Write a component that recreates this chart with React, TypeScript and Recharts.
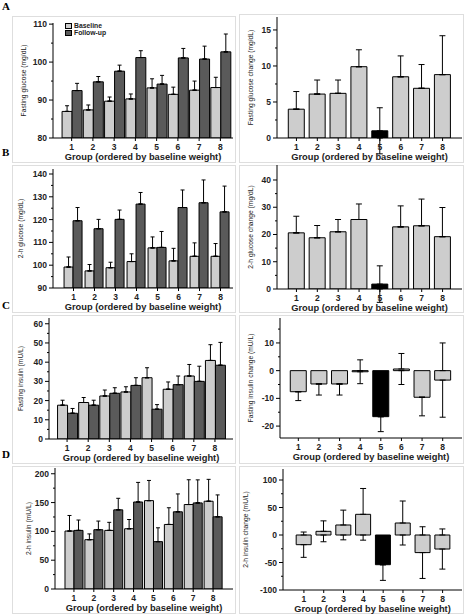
import React from 'react';
import { BarChart, Bar, XAxis, YAxis, ErrorBar, Cell, Legend } from 'recharts';

// groups ordered by baseline weight
const groups = ['1', '2', '3', '4', '5', '6', '7', '8'];
const highlightGroup = '5';

// A - fasting glucose (mg/dL)
const fastingGlucoseBaseline = [87.0, 87.4, 89.7, 90.3, 93.2, 91.5, 92.6, 93.3];
const fastingGlucoseBaselineSE = [1.5, 1.3, 1.1, 1.3, 2.4, 1.9, 2.4, 2.7];
const fastingGlucoseFollowUp = [92.5, 94.8, 97.6, 101.2, 94.2, 101.1, 100.8, 102.7];
const fastingGlucoseFollowUpSE = [1.9, 1.4, 1.6, 1.8, 2.3, 2.5, 3.4, 4.7];
const fastingGlucoseChange = [4.0, 6.1, 6.2, 9.9, 1.0, 8.5, 6.9, 8.8];
const fastingGlucoseChangeSE = [2.45, 1.95, 1.85, 2.35, 3.2, 2.9, 3.3, 5.4];

// B - 2-h glucose (mg/dL)
const twoHourGlucoseBaseline = [99.2, 97.5, 98.9, 101.6, 107.6, 101.9, 103.9, 103.9];
const twoHourGlucoseBaselineSE = [4.4, 2.8, 2.4, 3.4, 4.8, 5.5, 5.9, 5.6];
const twoHourGlucoseFollowUp = [119.5, 116.0, 120.1, 126.8, 107.8, 125.3, 127.4, 123.4];
const twoHourGlucoseFollowUpSE = [5.8, 4.1, 4.1, 5.1, 7.0, 7.7, 10.0, 11.3];
const twoHourGlucoseChange = [20.6, 18.8, 21.0, 25.5, 1.8, 22.8, 23.2, 19.2];
const twoHourGlucoseChangeSE = [6.1, 4.5, 4.5, 5.7, 6.7, 7.7, 9.8, 10.7];

// C - fasting insulin (mU/L)
const fastingInsulinBaseline = [17.6, 19.0, 22.4, 24.5, 31.9, 25.9, 32.8, 40.9];
const fastingInsulinBaselineSE = [2.6, 2.6, 3.1, 2.7, 5.2, 3.8, 6.0, 8.2];
const fastingInsulinFollowUp = [13.4, 17.6, 23.8, 27.9, 15.5, 28.3, 30.0, 38.4];
const fastingInsulinFollowUpSE = [2.5, 2.6, 2.9, 4.0, 2.4, 4.5, 7.9, 11.9];
const fastingInsulinChange = [-7.6, -4.8, -4.8, -0.4, -16.6, 0.6, -9.6, -3.4];
const fastingInsulinChangeSE = [3.2, 4.0, 4.0, 4.3, 5.4, 5.6, 6.7, 13.4];

// D - 2-h insulin (mU/L)
const twoHourInsulinBaseline = [100.6, 85.6, 101.7, 104.6, 153.4, 112.0, 146.6, 152.3];
const twoHourInsulinBaselineSE = [27, 10, 14, 16, 35, 29, 43, 38];
const twoHourInsulinFollowUp = [101.7, 102.9, 137.4, 151.0, 82.2, 134.0, 149.4, 125.3];
const twoHourInsulinFollowUpSE = [18, 15, 20, 34, 24, 31, 40, 38];
const twoHourInsulinChange = [-17.6, 6.7, 18.2, 37.6, -54.0, 21.8, -32.0, -25.5];
const twoHourInsulinChangeSE = [23, 19, 27, 47, 28.5, 40, 47, 36.5];

const xTitle = 'Group (ordered by baseline weight)';

const LIGHT = '#cdcdcd';
const DARK = '#5a5a5a';
const FONT = '"Liberation Sans", Arial, sans-serif';
const Y_W = 40;
const X_H = 24;

type SeriesDef = { name: string; values: number[]; errors: number[]; fill: string };
type PanelCfg = {
  area: [number, number, number, number];
  box: [number, number, number, number];
  pad: [number, number];
  gap: string;
  domain: [number, number];
  major: number[];
  minor: number[];
  yLabel: string;
  yLabelX: number;
  series: SeriesDef[];
  cap: number;
  highlight?: boolean;
  legend?: boolean;
};

const pair = (b: number[], be: number[], f: number[], fe: number[]): SeriesDef[] => [
  { name: 'Baseline', values: b, errors: be, fill: LIGHT },
  { name: 'Follow-up', values: f, errors: fe, fill: DARK },
];
const single = (v: number[], e: number[]): SeriesDef[] => [{ name: 'Change', values: v, errors: e, fill: LIGHT }];

const panels: PanelCfg[] = [
  {
    area: [0, 0, 236, 165], box: [53, 23, 233, 138], pad: [8, 2], gap: '5%',
    domain: [80, 110.3], major: [80, 90, 100, 110], minor: [85, 95, 105],
    yLabel: 'Fasting glucose (mg/dL)', yLabelX: 23, cap: 2, legend: true,
    series: pair(fastingGlucoseBaseline, fastingGlucoseBaselineSE, fastingGlucoseFollowUp, fastingGlucoseFollowUpSE),
  },
  {
    area: [236, 0, 229, 165], box: [277, 17, 462, 138], pad: [9, 9], gap: '11%',
    domain: [0, 16.8], major: [0, 5, 10, 15], minor: [2.5, 7.5, 12.5],
    yLabel: 'Fasting glucose change (mg/dL)', yLabelX: 250, cap: 3, highlight: true,
    series: single(fastingGlucoseChange, fastingGlucoseChangeSE),
  },
  {
    area: [0, 150, 236, 165], box: [53, 169, 233, 288], pad: [10, 2], gap: '5%',
    domain: [90, 142.2], major: [90, 100, 110, 120, 130, 140], minor: [95, 105, 115, 125, 135],
    yLabel: '2-h glucose (mg/dL)', yLabelX: 20, cap: 2,
    series: pair(twoHourGlucoseBaseline, twoHourGlucoseBaselineSE, twoHourGlucoseFollowUp, twoHourGlucoseFollowUpSE),
  },
  {
    area: [236, 150, 229, 165], box: [277, 165, 462, 289], pad: [9, 9], gap: '11%',
    domain: [0, 45.5], major: [0, 10, 20, 30, 40], minor: [5, 15, 25, 35],
    yLabel: '2-h glucose change (mg/dL)', yLabelX: 250, cap: 3, highlight: true,
    series: single(twoHourGlucoseChange, twoHourGlucoseChangeSE),
  },
  {
    area: [0, 300, 236, 165], box: [49, 318, 233, 439], pad: [7.5, 7.5], gap: '5%',
    domain: [0, 63], major: [0, 10, 20, 30, 40, 50, 60], minor: [5, 15, 25, 35, 45, 55],
    yLabel: 'Fasting insulin (mU/L)', yLabelX: 20, cap: 2,
    series: pair(fastingInsulinBaseline, fastingInsulinBaselineSE, fastingInsulinFollowUp, fastingInsulinFollowUpSE),
  },
  {
    area: [236, 300, 229, 165], box: [280, 318, 462, 438], pad: [8, 9], gap: '11%',
    domain: [-24.3, 19], major: [-20, -10, 0, 10], minor: [-15, -5, 5, 15],
    yLabel: 'Fasting insulin change (mU/L)', yLabelX: 250, cap: 3, highlight: true,
    series: single(fastingInsulinChange, fastingInsulinChangeSE),
  },
  {
    area: [0, 450, 236, 166], box: [55, 468, 233, 589], pad: [9, 10], gap: '5%',
    domain: [0, 210], major: [0, 50, 100, 150, 200], minor: [25, 75, 125, 175],
    yLabel: '2-h insulin (mU/L)', yLabelX: 28, cap: 2,
    series: pair(twoHourInsulinBaseline, twoHourInsulinBaselineSE, twoHourInsulinFollowUp, twoHourInsulinFollowUpSE),
  },
  {
    area: [236, 450, 229, 166], box: [283, 469, 462, 590], pad: [11, 9.5], gap: '11%',
    domain: [-100, 120], major: [-100, -50, 0, 50, 100], minor: [-75, -25, 25, 75],
    yLabel: '2-h insulin change (mU/L)', yLabelX: 245, cap: 3, highlight: true,
    series: single(twoHourInsulinChange, twoHourInsulinChangeSE),
  },
];

// light outer frames and panel letters
const frames: [number, number, number, number][] = [
  [12, 16, 224, 147], [239, 14, 225, 149],
  [12, 165, 224, 148], [239, 165, 225, 148],
  [12, 315, 224, 149], [239, 315, 225, 149],
  [12, 466, 224, 148], [239, 466, 225, 148],
];
const letters = [
  { t: 'A', top: 1 },
  { t: 'B', top: 147 },
  { t: 'C', top: 300 },
  { t: 'D', top: 449 },
];

// error whiskers are only visible outside the bar: the part past the bar end,
// and, when the whisker crosses the zero line, the part beyond the bar's base
function whiskerOut(v: number, se: number) {
  return v >= 0 ? [0, se] : [se, 0];
}
function whiskerCross(v: number, se: number) {
  if (v > 0 && v - se < 0) return [se, -v];
  if (v < 0 && v + se > 0) return [v, se];
  return [0, 0];
}

function makeRows(series: SeriesDef[], base: number) {
  return groups.map((g, i) => {
    const row: any = { group: g };
    series.forEach((s, k) => {
      const v = s.values[i];
      const se = s.errors[i];
      row['v' + k] = v;
      row['o' + k] = whiskerOut(v - base, se);
      row['c' + k] = base === 0 ? whiskerCross(v, se) : [0, 0];
    });
    return row;
  });
}

const YTick = ({ x, y, payload, major }: any) => {
  const isMajor = major.includes(payload.value);
  return (
    <g>
      <line x1={x - (isMajor ? 4 : 2)} x2={x} y1={y} y2={y} stroke="#000" strokeWidth={1} />
      {isMajor && (
        <text x={x - 6} y={y} dy={3} textAnchor="end" fontFamily={FONT} fontSize={8.5} fontWeight="bold" fill="#222">
          {payload.value}
        </text>
      )}
    </g>
  );
};

const XTick = ({ x, y, payload }: any) => (
  <text x={x} y={y} dy={6.5} textAnchor="middle" fontFamily={FONT} fontSize={8.5} fontWeight="bold" fill="#222">
    {payload.value}
  </text>
);

const XTitle = ({ viewBox }: any) => (
  <text
    x={viewBox.x + viewBox.width / 2}
    y={viewBox.y + viewBox.height - 2}
    textAnchor="middle"
    fontFamily={FONT}
    fontSize={9.3}
    fontWeight="bold"
    fill="#222"
  >
    {xTitle}
  </text>
);

const YTitle = ({ viewBox, posX, text }: any) => {
  const y = viewBox.y + viewBox.height / 2;
  return (
    <text
      x={posX}
      y={y}
      transform={`rotate(-90, ${posX}, ${y})`}
      textAnchor="middle"
      dominantBaseline="central"
      fontFamily={FONT}
      fontSize={6.7}
      fill="#222"
    >
      {text}
    </text>
  );
};

const GroupLegend = ({ payload }: any) => (
  <div style={{ fontFamily: FONT, fontSize: 6.8, fontWeight: 'bold', lineHeight: '7px', color: '#222' }}>
    {(payload || []).filter((p: any) => p.type !== 'none').map((p: any) => (
      <div key={p.value} style={{ display: 'flex', alignItems: 'center' }}>
        <span style={{ display: 'inline-block', width: 5, height: 4, background: p.color, border: '1px solid #000', marginRight: 2 }} />
        {p.value}
      </div>
    ))}
  </div>
);

function Panel({ cfg }: { cfg: PanelCfg }) {
  const [cx, cy, cw, ch] = cfg.area;
  const [x0, y0, x1, y1] = cfg.box;
  const base = cfg.domain[0] > 0 ? cfg.domain[0] : 0;
  const rows = makeRows(cfg.series, base);
  const ticks = [...cfg.major, ...cfg.minor].sort((a, b) => a - b);
  const margin = { top: y0 - cy, left: x0 - cx - Y_W, right: cx + cw - x1, bottom: cy + ch - y1 - X_H };
  const padding = { left: cfg.pad[0], right: cfg.pad[1] };
  return (
    <div style={{ position: 'absolute', left: cx, top: cy }}>
      <BarChart width={cw} height={ch} data={rows} margin={margin} barGap={0} barCategoryGap={cfg.gap}>
        <XAxis
          xAxisId="b"
          dataKey="group"
          height={X_H}
          padding={padding}
          interval={0}
          tickSize={3}
          tickMargin={2}
          axisLine={{ stroke: '#000' }}
          tickLine={{ stroke: '#000' }}
          tick={<XTick />}
          label={<XTitle />}
        />
        <XAxis
          xAxisId="t"
          dataKey="group"
          orientation="top"
          height={0}
          padding={padding}
          tick={false}
          tickLine={false}
          axisLine={{ stroke: '#000' }}
        />
        <YAxis
          yAxisId="l"
          type="number"
          domain={cfg.domain}
          allowDataOverflow
          ticks={ticks}
          interval={0}
          width={Y_W}
          tickSize={0}
          tickMargin={0}
          tickLine={false}
          axisLine={{ stroke: '#000' }}
          tick={<YTick major={cfg.major} />}
          label={<YTitle posX={cfg.yLabelX - cx} text={cfg.yLabel} />}
        />
        <YAxis
          yAxisId="r"
          type="number"
          orientation="right"
          domain={cfg.domain}
          allowDataOverflow
          width={0}
          tick={false}
          tickLine={false}
          axisLine={{ stroke: '#000' }}
        />
        {cfg.series.map((s, k) => (
          <Bar
            key={'bar' + k}
            xAxisId="b"
            yAxisId="l"
            dataKey={'v' + k}
            name={s.name}
            fill={s.fill}
            stroke="#000"
            strokeWidth={1}
            isAnimationActive={false}
          >
            {cfg.highlight &&
              rows.map((r) => <Cell key={r.group} fill={r.group === highlightGroup ? '#000' : s.fill} />)}
            <ErrorBar dataKey={'o' + k} width={cfg.cap} stroke="#000" strokeWidth={1} direction="y" />
            <ErrorBar dataKey={'c' + k} width={cfg.cap} stroke="#000" strokeWidth={1} direction="y" />
          </Bar>
        ))}
        {cfg.legend && (
          <Legend
            layout="vertical"
            align="center"
            verticalAlign="middle"
            content={<GroupLegend />}
            wrapperStyle={{ left: 65, top: 22, width: 'auto' }}
          />
        )}
      </BarChart>
    </div>
  );
}

export default function App() {
  return (
    <div style={{ position: 'absolute', left: 0, top: 0, width: 465, height: 616, background: '#fff', fontFamily: FONT }}>
      {frames.map(([x, y, w, h], i) => (
        <div key={i} style={{ position: 'absolute', left: x, top: y, width: w, height: h, border: '1px solid #dedede', boxSizing: 'border-box' }} />
      ))}
      {letters.map((l) => (
        <div
          key={l.t}
          style={{ position: 'absolute', left: 2, top: l.top, fontFamily: '"Liberation Serif", "Times New Roman", serif', fontWeight: 'bold', fontSize: 11, lineHeight: 1 }}
        >
          {l.t}
        </div>
      ))}
      {panels.map((p, i) => (
        <Panel key={i} cfg={p} />
      ))}
    </div>
  );
}
